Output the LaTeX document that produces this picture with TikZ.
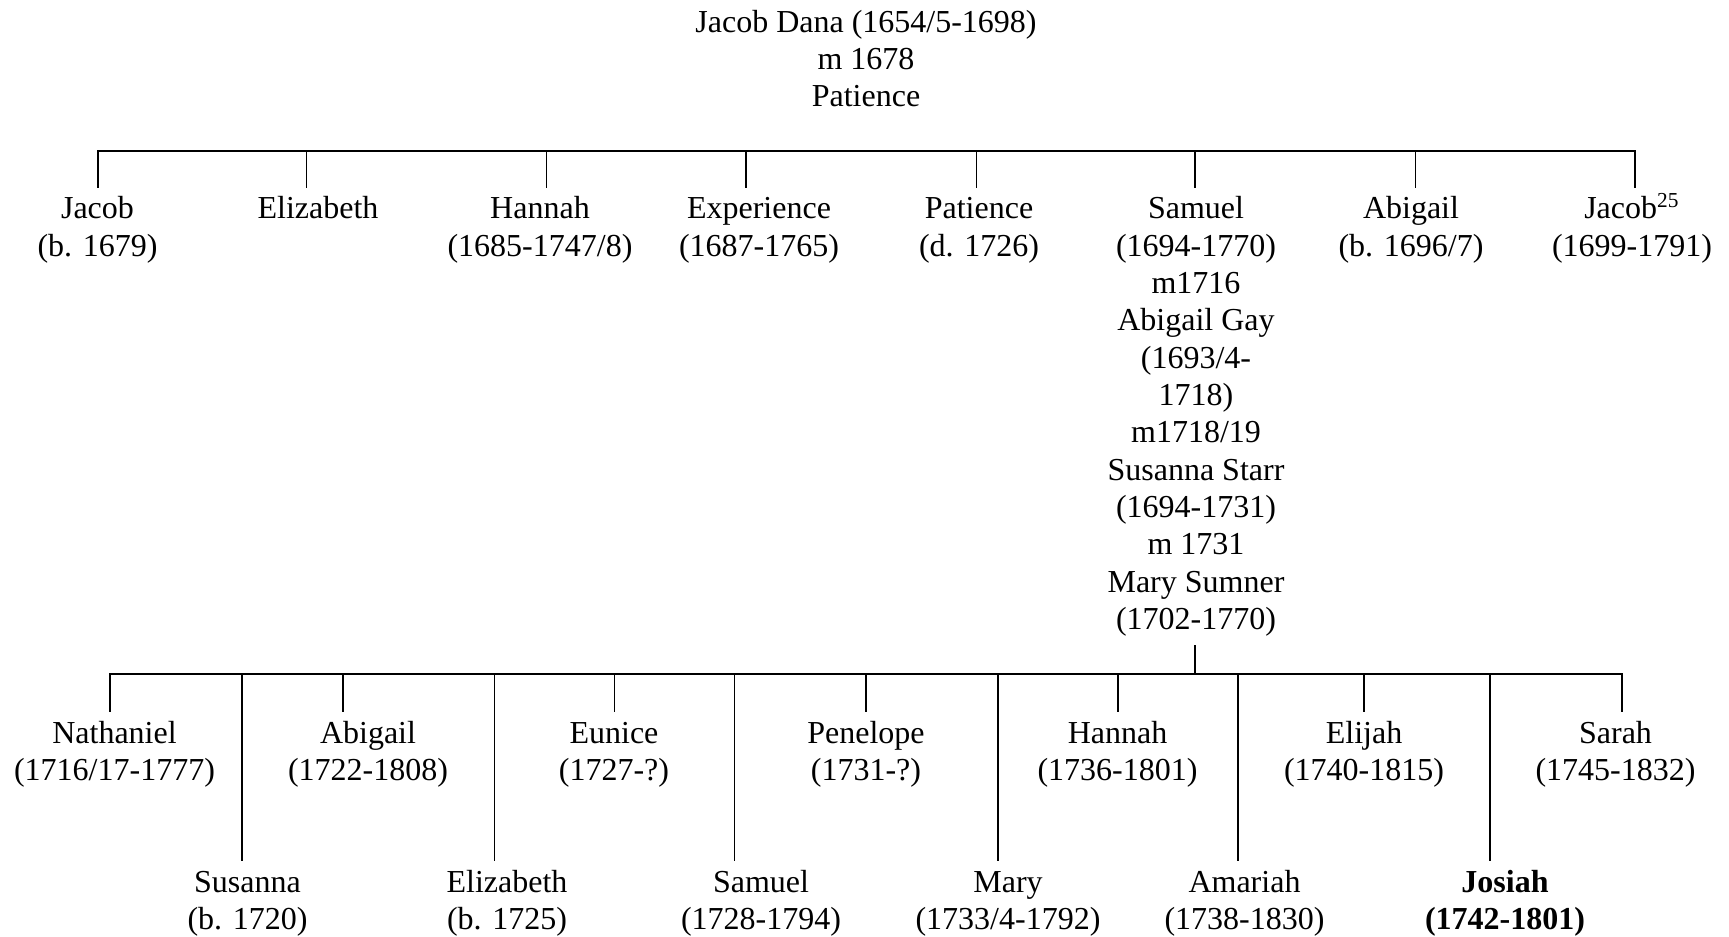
\documentclass[tikz,border=0pt]{standalone}
\usepackage{fontspec}
\setmainfont{Liberation Serif}
\begin{document}
\begin{tikzpicture}[x=0.375pt,y=-0.375pt,
  person/.style={anchor=north,align=center,inner sep=0pt,font=\fontsize{12}{14}\selectfont},
  keyperson/.style={person,font=\fontsize{12}{14}\selectfont\bfseries},
  bar/.style={line width=0.85pt,line cap=rect},
  tick/.style={line width=0.6pt,shorten >=1.6pt}]
\fill[white] (0,0) rectangle (1729,937);
\useasboundingbox (0,0) rectangle (1729,937);

% parents
\node[person] (parents) at (866,5.6) {\strut Jacob Dana (1654/5-1698)\\m 1678\\Patience};

% first generation
\node[person] (jacob1) at (97.5,192.3) {\strut Jacob\\(b. 1679)};
\node[person] (elizabeth1) at (318,192.3) {\strut Elizabeth};
\node[person] (hannah1) at (540,192.3) {\strut Hannah\\(1685-1747/8)};
\node[person] (experience) at (759,192.3) {\strut Experience\\(1687-1765)};
\node[person] (patience) at (979,192.3) {\strut Patience\\(d. 1726)};
\node[person] (samuel1) at (1196,192.3) {\strut Samuel\\(1694-1770)\\m1716\\Abigail Gay\\(1693/4-\\1718)\\m1718/19\\Susanna Starr\\(1694-1731)\\m 1731\\Mary Sumner\\(1702-1770)\strut};
\node[person] (abigail1) at (1411,192.3) {\strut Abigail\\(b. 1696/7)};
\node[person] (jacob2) at (1632,192.3) {\strut Jacob\textsuperscript{25}\\(1699-1791)};

\coordinate (a1) at (98,150.7);
\coordinate (a2) at (306.5,150.7);
\coordinate (a3) at (546.5,150.7);
\coordinate (a4) at (746,150.7);
\coordinate (a5) at (976.5,150.7);
\coordinate (a6) at (1195,150.7);
\coordinate (a7) at (1415.5,150.7);
\coordinate (a8) at (1635,150.7);
\draw[bar] (a1) -- (a8);
\foreach \c/\n in {a1/jacob1,a2/elizabeth1,a3/hannah1,a4/experience,a5/patience,a6/samuel1,a7/abigail1,a8/jacob2}
  \draw[tick] (\c) -- (\c |- \n.north);

% second generation
\node[person] (nathaniel) at (114.5,716.6) {\strut Nathaniel\\(1716/17-1777)};
\node[person] (susanna) at (247.5,865.6) {\strut Susanna\\(b. 1720)};
\node[person] (abigail2) at (368,716.6) {\strut Abigail\\(1722-1808)};
\node[person] (elizabeth2) at (507,865.6) {\strut Elizabeth\\(b. 1725)};
\node[person] (eunice) at (614,716.6) {\strut Eunice\\(1727-?)};
\node[person] (samuel2) at (761,865.6) {\strut Samuel\\(1728-1794)};
\node[person] (penelope) at (866,716.6) {\strut Penelope\\(1731-?)};
\node[person] (mary) at (1008,865.6) {\strut Mary\\(1733/4-1792)};
\node[person] (hannah2) at (1117.5,716.6) {\strut Hannah\\(1736-1801)};
\node[person] (amariah) at (1244.5,865.6) {\strut Amariah\\(1738-1830)};
\node[person] (elijah) at (1364,716.6) {\strut Elijah\\(1740-1815)};
\node[keyperson] (josiah) at (1505,865.6) {\strut Josiah\\(1742-1801)};
\node[person] (sarah) at (1615.5,716.6) {\strut Sarah\\(1745-1832)};

\coordinate (b1) at (109.7,674);
\coordinate (b2) at (242,674);
\coordinate (b3) at (343,674);
\coordinate (b4) at (494.4,674);
\coordinate (b5) at (614.4,674);
\coordinate (b6) at (734.5,674);
\coordinate (b7) at (866,674);
\coordinate (b8) at (997.7,674);
\coordinate (b9) at (1118,674);
\coordinate (b10) at (1238,674);
\coordinate (b11) at (1364,674);
\coordinate (b12) at (1490,674);
\coordinate (b13) at (1622,674);
\coordinate (bs) at (1195,674);
\draw[bar] (b1) -- (b13);
\foreach \c/\n in {b1/nathaniel,b2/susanna,b3/abigail2,b4/elizabeth2,b5/eunice,b6/samuel2,b7/penelope,b8/mary,b9/hannah2,b10/amariah,b11/elijah,b12/josiah,b13/sarah}
  \draw[tick] (\c) -- (\c |- \n.north);
\draw[tick,shorten >=0pt,shorten <=1.4pt] (samuel1.south -| bs) -- (bs);
\end{tikzpicture}
\end{document}
